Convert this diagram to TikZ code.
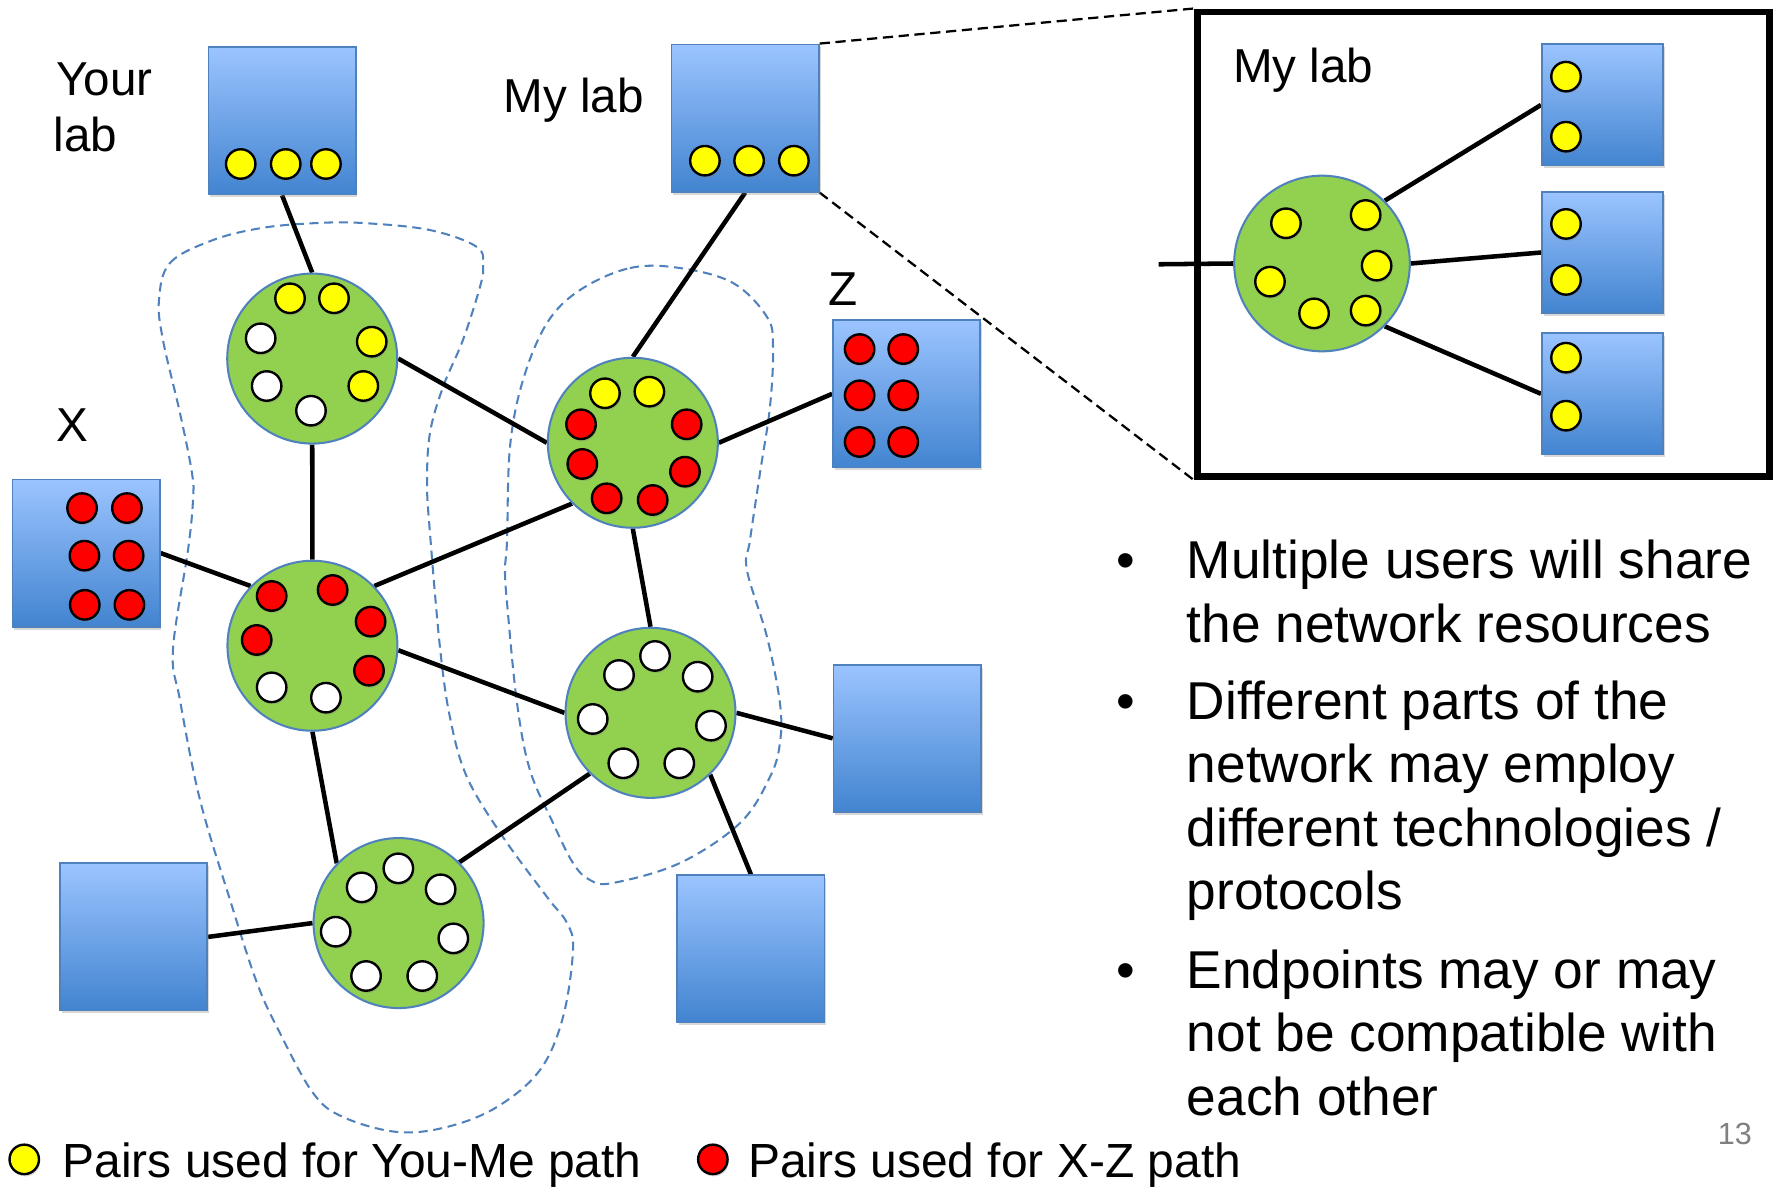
\documentclass[tikz,border=0pt]{standalone}
\usepackage{fontspec}
\setmainfont{Liberation Sans}
\usetikzlibrary{shadows}
\pgfdeclarelayer{background}
\pgfsetlayers{background,main}
\definecolor{boxtop}{RGB}{155,196,255}
\definecolor{boxbot}{RGB}{66,132,208}
\definecolor{edgeblue}{RGB}{79,129,189}
\definecolor{routergreen}{RGB}{146,208,80}
\definecolor{dotyellow}{RGB}{255,255,0}
\definecolor{dotred}{RGB}{255,0,0}
\definecolor{pagegray}{RGB}{128,128,128}
\begin{document}
\begin{tikzpicture}[x=1pt,y=-1pt,
  labbox/.style={rectangle, draw=edgeblue, line width=1.5pt, top color=boxtop, bottom color=boxbot, minimum width=130pt, minimum height=130pt, inner sep=0pt, drop shadow={shadow xshift=1.5pt, shadow yshift=-2.5pt, opacity=0.3}},
  smallbox/.style={labbox, minimum width=107pt, minimum height=107pt},
  router/.style={circle, draw=edgeblue, line width=1.8pt, fill=routergreen, minimum size=150pt, inner sep=0pt},
  port/.style={circle, draw=black, line width=2.1pt, minimum size=26pt, inner sep=0pt, drop shadow={shadow xshift=1pt, shadow yshift=-2pt, opacity=0.3}},
  yp/.style={port, fill=dotyellow},
  rp/.style={port, fill=dotred},
  wp/.style={port, fill=white},
  link/.style={line width=4pt, black},
  cloudline/.style={edgeblue, line width=1.8pt, dash pattern=on 8pt off 5pt},
  zoomline/.style={black, line width=2pt, dash pattern=on 9pt off 5pt},
  lbl/.style={anchor=base west, inner sep=0pt, font=\fontsize{42}{50}\selectfont},
  bul/.style={anchor=base west, inner sep=0pt, font=\fontsize{47}{56}\selectfont},
  leg/.style={anchor=base west, inner sep=0pt, font=\fontsize{42.3}{50}\selectfont},
]
\useasboundingbox (0,0) rectangle (1568,1047);

% boxes
\node[labbox] (yourlab) at (248.9,106.6) {};
\node[labbox] (mylab) at (657.5,104.2) {};
\node[labbox] (zbox) at (800,347.5) {};
\node[labbox] (xbox) at (76,488) {};
\node[labbox] (blbox) at (117.9,826.7) {};
\node[labbox] (bcbox) at (662.6,837.3) {};
\node[labbox] (rmbox) at (800.5,651.5) {};

% routers
\node[router] (r1) at (275.5,316.4) {};
\node[router] (r2) at (558.4,390.7) {};
\node[router] (r3) at (275.7,569.8) {};
\node[router] (r4) at (574,629) {};
\node[router] (r5) at (351.7,814.5) {};

% inset
\node[draw, line width=6pt, minimum width=505pt, minimum height=410pt, inner sep=0pt] (inset) at (1308.8,215.5) {};
\node[router, minimum size=155pt] (ir) at (1166.5,232.5) {};
\node[smallbox] (ib1) at (1414,92.6) {};
\node[smallbox] (ib2) at (1414,222.8) {};
\node[smallbox] (ib3) at (1414,347.5) {};
\coordinate (stub) at (1022.3,233.2);

% ports
\foreach \p [count=\i] in {(212.4,144.7),(252.1,144.7),(287.6,144.7),(622,141.8),(661,141.8),(700.5,141.8),
  (255.9,263.2),(294.7,263.2),(328,301.5),(320.6,340.6),(533.8,347),(573,345.6),
  (1134.7,197),(1205,189.7),(1120.6,248.5),(1214.7,234.4),(1159.5,276.5),(1205,274.1),
  (1381.8,67.6),(1381.8,120.6),(1381.8,197.6),(1381.8,247),(1381.8,315.6),(1381.8,366.8)}
  \node[yp] (yport\i) at \p {};
\foreach \p [count=\i] in {(758.5,308),(797,308),(758.5,348.8),(797,348.8),(758.5,390),(797,390),
  (72.4,448.3),(112,448.3),(74.5,490.3),(113.5,490.3),(74.8,533.7),(114.2,533.7),
  (512.7,374.4),(605.9,374.4),(513.8,409.4),(604.4,416.2),(535.3,439.7),(575.9,441.2),
  (239.7,525.9),(293.5,520.6),(327,548.5),(226.5,564.7),(325.6,591.8)}
  \node[rp] (rport\i) at \p {};
\foreach \p [count=\i] in {(230,298.5),(235.3,340.6),(274.4,362.4),
  (239.7,606.5),(287.6,615.6),
  (578,578.8),(546.2,595.6),(615.6,597.1),(523,634.4),(627.4,640.3),(550,673.5),(599.4,673.5),
  (351.5,766.2),(319.1,783),(388.8,784.7),(296.2,822.1),(400,828),(323,861.2),(372.6,861.2)}
  \node[wp] (wport\i) at \p {};

\begin{pgfonlayer}{background}
\fill[white] (0,0) rectangle (1568,1047);
% clouds
\draw[cloudline] plot[smooth cycle, tension=0.6] coordinates {
 (140.3,264.7) (150,232) (188,211.8) (232,201) (279.7,196.8) (320.3,196.8) (379.4,203) (420.9,218)
 (426.2,235.6) (423.5,253.2) (408.5,300) (390.9,341.5) (379.4,382) (376.8,426.2) (379.4,470.3)
 (388.2,570.9) (397,632.7) (412,685.6) (443.8,738.5) (482.7,791.5) (500.3,814.4) (505.6,838.2)
 (496.8,897.4) (476.5,944.1) (438.5,976.8) (394.4,994.4) (350.3,998.8) (302.6,985.6) (276.2,964.4)
 (247,911.5) (226.8,867.4) (203,794.1) (176.5,705.9) (158.8,617.7) (152.6,573.5) (165.9,485.3)
 (170.3,441.2) (169.4,417.4) (158.8,364.4) (143.8,300)};
\draw[cloudline] plot[smooth cycle, tension=0.6] coordinates {
 (511.8,255.9) (555.9,236.5) (600,236.5) (646.8,249.7) (676.8,279.7) (682.1,306.2) (679.4,359.1)
 (670.6,417.4) (661.8,476.5) (659.1,503) (676.8,562.1) (688.2,620.3) (688.2,655.6) (679.4,685.6)
 (653,726.2) (600,761.5) (540.9,779.1) (520.6,776.5) (505.6,761.5) (488,726.2) (467.6,679.4)
 (456.2,620.3) (447.4,532.1) (445.6,503) (447.4,476.5) (450,394.4) (461.5,335.3) (482.7,285)};
% zoom lines
\draw[zoomline] (mylab.north east) -- (inset.north west);
\draw[zoomline] (mylab.south east) -- (inset.south west);
% links
\draw[link] (yourlab.south) -- (r1.north);
\draw[link] (mylab.south) -- (r2.north);
\draw[link] (r1.east) -- (r2.west);
\draw[link] (r1.south) -- (r3.north);
\draw[link] (xbox.east) -- (r3.136);
\draw[link] (r3.44) -- (r2.225);
\draw[link] (r2.east) -- (zbox.west);
\draw[link] (r2.south) -- (r4.north);
\draw[link] (r3.-3) -- (r4.west);
\draw[link] (r4.east) -- (rmbox.west);
\draw[link] (r3.south) -- (r5.136);
\draw[link] (r4.225) -- (r5.45);
\draw[link] (blbox.east) -- (r5.west);
\draw[link] (r4.-46) -- (bcbox.north);
\draw[link] (stub) -- (ir.west);
\draw[link] (ir.45) -- (ib1.west);
\draw[link] (ir.east) -- (ib2.west);
\draw[link] (ir.-45) -- (ib3.west);
\end{pgfonlayer}

% labels
\node[lbl] (tyour) at (49.5,84.4) {Your};
\node[lbl] (tyourlab) at (47,133.3) {lab};
\node[lbl] (tmylab) at (444,99.6) {My lab};
\node[lbl] (tz) at (731,270) {Z};
\node[lbl] (tx) at (49.5,389.3) {X};
\node[lbl] (tinset) at (1088,73) {My lab};

% bullets
\node[bul] (b1) at (985,510.5) {•};
\node[bul] (b2) at (985,634.5) {•};
\node[bul] (b3) at (985,872) {•};
\node[bul] (l1) at (1047,510.5) {Multiple users will share};
\node[bul] (l2) at (1047,566.5) {the network resources};
\node[bul] (l3) at (1047,634.5) {Different parts of the};
\node[bul] (l4) at (1047,690.5) {network may employ};
\node[bul] (l5) at (1047,746.5) {different technologies /};
\node[bul] (l6) at (1047,802.5) {protocols};
\node[bul] (l7) at (1047,872) {Endpoints may or may};
\node[bul] (l8) at (1047,928) {not be compatible with};
\node[bul] (l9) at (1047,984) {each other};

% legend
\node[yp] (legy) at (21.4,1023) {};
\node[rp] (legr) at (629,1023) {};
\node[leg] (tlegy) at (55,1039) {Pairs used for You-Me path};
\node[leg] (tlegr) at (660,1039) {Pairs used for X-Z path};
\node[anchor=base west, inner sep=0pt, font=\fontsize{27}{30}\selectfont, text=pagegray] (pnum) at (1515.6,1009.6) {13};
\end{tikzpicture}
\end{document}
